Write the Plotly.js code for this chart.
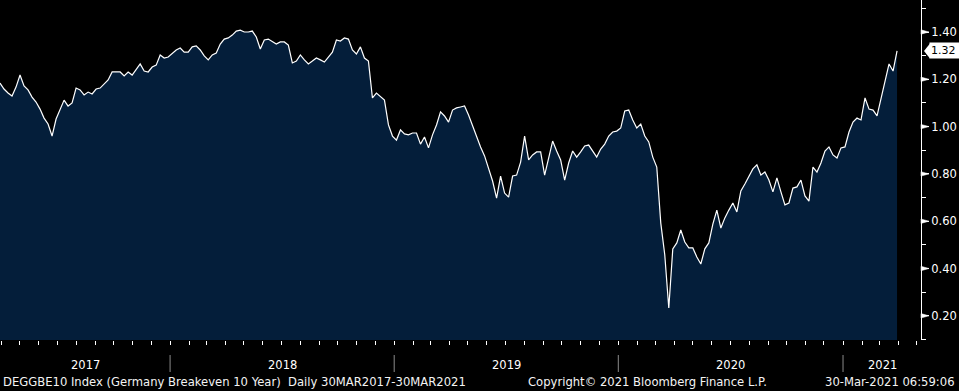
<!DOCTYPE html>
<html><head><meta charset="utf-8">
<script src="https://cdn.plot.ly/plotly-3.0.1.min.js"></script>
<style>html,body{margin:0;padding:0;background:#000;}#chart{width:959px;height:391px;}</style>
</head><body><div id="chart"></div>
<script>
// ---- data ----
const startDate = '2017-03-30';
const endDate = '2021-03-30';
const xRangeEnd = '2021-05-08';
const values = [
1.184,1.159,1.142,1.129,1.167,1.218,1.172,1.155,1.125,1.104,
1.074,1.036,1.011,0.960,1.032,1.070,1.112,1.087,1.100,1.163,
1.155,1.134,1.146,1.138,1.159,1.163,1.180,1.197,1.231,1.231,
1.231,1.214,1.231,1.218,1.239,1.265,1.235,1.231,1.252,1.260,
1.303,1.290,1.294,1.311,1.324,1.332,1.315,1.315,1.337,1.341,
1.324,1.299,1.282,1.303,1.311,1.349,1.370,1.375,1.387,1.404,
1.408,1.400,1.400,1.404,1.379,1.328,1.366,1.370,1.358,1.349,
1.358,1.358,1.345,1.269,1.277,1.303,1.282,1.265,1.277,1.290,
1.282,1.273,1.294,1.315,1.366,1.362,1.375,1.370,1.324,1.307,
1.337,1.290,1.277,1.121,1.142,1.125,1.112,1.007,0.960,0.943,
0.986,0.969,0.965,0.973,0.973,0.926,0.956,0.910,0.965,1.007,
1.062,1.045,1.019,1.070,1.079,1.083,1.087,1.049,1.003,0.952,
0.914,0.876,0.825,0.770,0.698,0.791,0.719,0.702,0.791,0.795,
0.850,0.960,0.859,0.880,0.893,0.893,0.795,0.867,0.939,0.897,
0.859,0.774,0.846,0.897,0.871,0.893,0.918,0.922,0.897,0.871,
0.905,0.926,0.960,0.977,0.981,0.994,1.066,1.070,1.028,0.994,
1.011,0.960,0.935,0.871,0.829,0.592,0.457,0.233,0.483,0.508,
0.563,0.512,0.487,0.487,0.449,0.419,0.483,0.508,0.588,0.647,
0.571,0.614,0.647,0.677,0.639,0.728,0.757,0.787,0.821,0.838,
0.795,0.808,0.774,0.724,0.783,0.724,0.669,0.677,0.740,0.745,
0.774,0.707,0.685,0.829,0.808,0.846,0.897,0.914,0.880,0.867,
0.910,0.914,0.977,1.019,1.036,1.028,1.121,1.074,1.070,1.045,
1.121,1.189,1.265,1.235,1.320
];
const yTicks = [0.20,0.40,0.60,0.80,1.00,1.20,1.40];
const yTickLabels = ['0.20','0.40','0.60','0.80','1.00','1.20','1.40'];
const years = [2017,2018,2019,2020,2021];
const footerLeft = 'DEGGBE10 Index (Germany Breakeven 10 Year)\u00a0 Daily 30MAR2017-30MAR2021';
const footerMid = 'Copyright\u00a9 2021 Bloomberg Finance L.P.';
const footerRight = '30-Mar-2021 06:59:06';

// ---- layout constants ----
const W = 959, H = 391;
const M = {l:0, r:38, t:0, b:51};
const plotW = W - M.l - M.r, plotH = H - M.t - M.b;
const yRange = [0.0977, 1.5353];
const FONT = 'DejaVu Sans, Verdana, sans-serif';
const pxY = p => (p / plotH) * (yRange[1] - yRange[0]); // px -> data units
const pxX = p => p / plotW;                             // px -> paper units

const dx = (Date.parse(endDate) - Date.parse(startDate)) / (values.length - 1);

const trace = {
  type: 'scatter', mode: 'lines',
  x0: startDate, dx: dx, y: values,
  line: {color: '#ffffff', width: 1.2},
  fill: 'tozeroy', fillcolor: '#041e3a',
  hoverinfo: 'skip'
};

const shapes = [];
// year separators
years.slice(1).forEach(yr => {
  shapes.push({type:'line', xref:'x', yref:'paper',
    x0: yr + '-01-01', x1: yr + '-01-01',
    y0: -15/plotH, y1: -32/plotH,
    line:{color:'#8a8a8a', width:1}});
});
// arrow heads on major y ticks
yTicks.forEach(v => {
  const d = pxY(2.2);
  shapes.push({type:'path', xref:'paper', yref:'y',
    path: `M 1,${v+d} L ${1+pxX(8)},${v} L 1,${v-d} Z`,
    fillcolor:'#ffffff', line:{color:'#ffffff', width:0.5}});
});
// last value marker pointer
const last = values[values.length-1];
shapes.push({type:'path', xref:'paper', yref:'y',
  path: `M ${1+pxX(3)},${last} L ${1+pxX(9)},${last+pxY(7.5)} L ${1+pxX(9)},${last-pxY(7.5)} Z`,
  fillcolor:'#ffffff', line:{width:0}});

const annotations = [];
years.forEach(yr => {
  const s = Math.max(Date.parse(yr + '-01-01'), Date.parse(startDate));
  const e = Math.min(Date.parse((yr+1) + '-01-01'), Date.parse(xRangeEnd));
  const mid = new Date((s + e) / 2).toISOString();
  annotations.push({xref:'x', yref:'paper', x: mid, y: -25/plotH,
    text: String(yr), showarrow:false, xanchor:'center', yanchor:'middle',
    font:{family:FONT, size:11.5, color:'#ffffff'}});
});
annotations.push({xref:'paper', yref:'paper', x:0, xshift:1, y:-42/plotH,
  text: footerLeft, showarrow:false, xanchor:'left', yanchor:'middle',
  font:{family:FONT, size:11.6, color:'#f4f4f4'}});
annotations.push({xref:'paper', yref:'paper', x:526/plotW, y:-42/plotH,
  text: footerMid, showarrow:false, xanchor:'left', yanchor:'middle',
  font:{family:FONT, size:11.6, color:'#f4f4f4'}});
annotations.push({xref:'paper', yref:'paper', x:957/plotW, y:-42/plotH,
  text: footerRight, showarrow:false, xanchor:'right', yanchor:'middle',
  font:{family:FONT, size:11.6, color:'#f4f4f4'}});
annotations.push({xref:'paper', yref:'y', x:1, xshift:8, y:last,
  text: last.toFixed(2), showarrow:false, xanchor:'left', yanchor:'middle',
  bgcolor:'#ffffff', borderpad:1, width:28, align:'left',
  font:{family:FONT, size:11, color:'#000000'}});

const layout = {
  width: W, height: H, margin: M,
  paper_bgcolor:'#000000', plot_bgcolor:'#000000',
  showlegend:false,
  xaxis: {type:'date', range:[startDate, xRangeEnd],
    showgrid:false, zeroline:false, showline:false,
    ticks:'outside', tickmode:'linear', tick0:'2017-01-01', dtick:'M1',
    ticklen:4, tickcolor:'#ffffff', tickwidth:1, showticklabels:false},
  yaxis: {side:'right', range:yRange, showgrid:false, zeroline:false,
    showline:true, linecolor:'#ffffff', linewidth:1,
    tickmode:'array', tickvals:yTicks, ticktext:yTickLabels,
    ticks:'outside', ticklen:7, tickcolor:'#ffffff', tickwidth:1,
    minor:{tickmode:'linear', tick0:0, dtick:0.1, ticks:'outside', ticklen:4, tickcolor:'#ffffff'},
    tickfont:{family:FONT, size:11.5, color:'#ffffff'}},
  shapes: shapes, annotations: annotations
};

Plotly.newPlot('chart', [trace], layout, {staticPlot:true, displayModeBar:false});
</script>
</body></html>
